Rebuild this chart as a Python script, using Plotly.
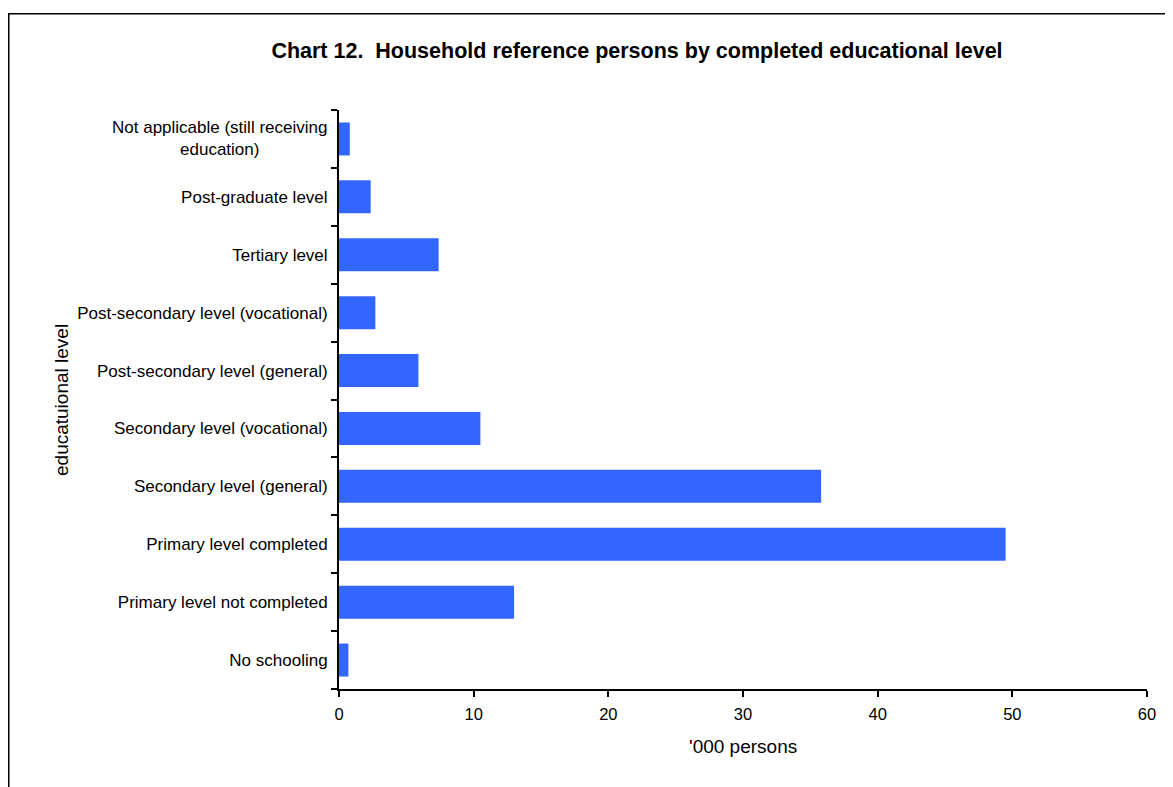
import plotly.graph_objects as go

categories = [
    "No schooling",
    "Primary level not completed",
    "Primary level completed",
    "Secondary level (general)",
    "Secondary level (vocational)",
    "Post-secondary level (general)",
    "Post-secondary level (vocational)",
    "Tertiary level",
    "Post-graduate level",
    "Not applicable (still receiving<br>education)",
]
values = [0.7, 13.0, 49.5, 35.8, 10.5, 5.9, 2.7, 7.4, 2.35, 0.8]
x_ticks = [0, 10, 20, 30, 40, 50, 60]

# page body has an 8px margin, so figure coordinates = screen - 8
OFF = 8
W, H = 1173 - OFF, 787 - OFF
L, R, T, B = 339 - OFF, 26, 110 - OFF, 98
pw, ph = W - L - R, H - T - B

def px_x(px):
    return (px - OFF - L) / pw

def px_y(py):
    return (H - B - (py - OFF)) / ph

font_family = "Liberation Sans, Arial, sans-serif"

# multi-line label drawn as centred annotation; other labels as tick text
ticktext = ["" if "<br>" in c else c for c in categories]

fig = go.Figure(go.Bar(
    x=values, y=categories, orientation="h",
    marker=dict(color="#3366FF", line=dict(width=0)),
    width=0.57,
))

annotations = [
    dict(text="'000 persons", xref="paper", yref="paper",
         x=px_x(743), y=px_y(746), xanchor="center", yanchor="middle",
         showarrow=False, font=dict(size=19, family=font_family, color="black")),
    dict(text="educatuional level", xref="paper", yref="paper",
         x=px_x(62), y=px_y(400), xanchor="center", yanchor="middle",
         textangle=-90, showarrow=False,
         font=dict(size=19, family=font_family, color="black")),
]
for c in categories:
    if "<br>" in c:
        annotations.append(dict(
            text=c, xref="paper", yref="y", x=px_x(329), y=c,
            xanchor="right", yanchor="middle", align="center",
            showarrow=False, font=dict(size=17, family=font_family, color="black"),
        ))

fig.update_layout(
    width=W, height=H,
    margin=dict(l=L, r=R, t=T, b=B, autoexpand=False),
    paper_bgcolor="white", plot_bgcolor="white",
    font=dict(family=font_family, color="black", size=17),
    showlegend=False,
    title=dict(
        text="<b>Chart 12.  Household reference persons by completed educational level</b>",
        x=(637 - OFF) / W, xanchor="center", y=1 - (50 - OFF) / H, yanchor="middle",
        font=dict(size=21.5, family=font_family, color="black"),
    ),
    xaxis=dict(
        range=[0, 60], tickvals=x_ticks, ticktext=[str(v) for v in x_ticks],
        showgrid=False, zeroline=False,
        showline=True, linecolor="black", linewidth=2,
        ticks="outside", ticklen=6, tickwidth=2, tickcolor="black",
        tickfont=dict(size=16.5), ticklabelstandoff=3,
    ),
    yaxis=dict(
        type="category", categoryorder="array", categoryarray=categories,
        tickvals=categories, ticktext=ticktext,
        showgrid=False, zeroline=False,
        showline=True, linecolor="black", linewidth=2,
        ticks="outside", ticklen=6, tickwidth=2, tickcolor="black",
        tickson="boundaries", ticklabelstandoff=6,
        tickfont=dict(size=17),
    ),
    annotations=annotations,
    shapes=[dict(
        type="rect", xref="paper", yref="paper",
        x0=px_x(8.75), x1=px_x(1200),
        y0=px_y(830), y1=px_y(13.75),
        line=dict(color="black", width=1.5), fillcolor="rgba(0,0,0,0)",
        layer="below",
    )],
)

fig.write_html("out.html")
